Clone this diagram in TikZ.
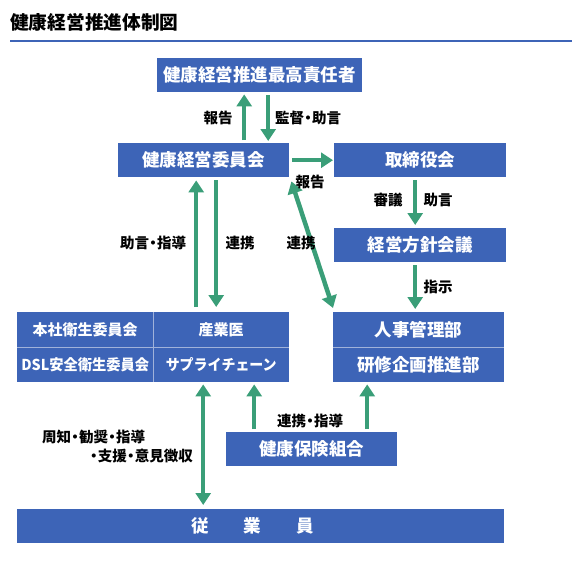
\documentclass[tikz,border=0pt]{standalone}
\usepackage{fontspec}
\setmainfont{Noto Sans CJK JP}
\usetikzlibrary{arrows.meta}
\definecolor{boxblue}{RGB}{61,100,183}
\definecolor{arrgreen}{RGB}{58,158,120}
\definecolor{divline}{RGB}{160,178,218}
\newcommand{\hdot}{\makebox[0.55em]{・}}
\tikzset{
  bluebox/.style={fill=boxblue, text=white, font=\bfseries\fontsize{17.5}{20}\selectfont, inner sep=0pt, anchor=north west},
  cellbox/.style={fill=boxblue, text=white, font=\bfseries\fontsize{15}{18}\selectfont, inner sep=0pt, anchor=north west, minimum width=136pt, minimum height=35pt},
  lbl/.style={font=\bfseries\fontsize{14.5}{17}\selectfont, text=black, inner sep=0pt},
  garr/.style={draw=arrgreen, line width=4.5pt, -{Triangle[width=15pt,length=12pt]}},
  gdarr/.style={draw=arrgreen, line width=4.5pt, {Triangle[width=15pt,length=12pt]}-{Triangle[width=15pt,length=12pt]}},
}
\begin{document}
\begin{tikzpicture}[x=1pt,y=-1pt]
\useasboundingbox (0,0) rectangle (580,563);
% title
\node[anchor=west, inner sep=0pt, font=\bfseries\fontsize{18.7}{20}\selectfont] (title) at (10,22) {健康経営推進体制図};
\draw[boxblue, line width=2pt] (10,41) -- (572,41);
% boxes
\node[bluebox, minimum width=205pt, minimum height=34pt] (b1) at (157,58) {健康経営推進最高責任者};
\node[bluebox, minimum width=171pt, minimum height=34pt] (b2) at (118,143) {健康経営委員会};
\node[bluebox, minimum width=172pt, minimum height=34pt] (b3) at (334,143) {取締役会};
\node[bluebox, minimum width=172pt, minimum height=34pt] (b4) at (334,228) {経営方針会議};
\node[bluebox, minimum width=171pt, minimum height=35pt] (b5) at (333,312) {人事管理部};
\node[bluebox, minimum width=171pt, minimum height=35pt] (b6) at (333,347) {研修企画推進部};
\node[cellbox] (lt1) at (17,312) {本社衛生委員会};
\node[cellbox] (lt2) at (153,312) {産業医};
\node[cellbox] (lb1) at (17,347) {\scalebox{0.95}[1]{DSL安全衛生委員会}};
\node[cellbox] (lb2) at (153,347) {\scalebox{0.93}[1]{サプライチェーン}};
\node[bluebox, minimum width=171pt, minimum height=34pt] (hk) at (226,432) {健康保険組合};
\node[bluebox, minimum width=487pt, minimum height=34pt] (emp) at (17,509) {\hspace*{-16pt}従\kern35pt業\kern35pt員};
% dividers
\draw[divline, line width=1pt] (lt1.north east) -- (lb1.south east);
\draw[divline, line width=1pt] (lt1.south west) -- (lt2.south east);
\draw[divline, line width=0.8pt] (b5.south west) -- (b5.south east);
% arrows
\draw[garr] ([xshift=40.5pt,yshift=3pt]b2.north) -- ([xshift=-15.5pt,yshift=-2pt]b1.south);
\draw[garr] ([xshift=8.5pt,yshift=-3pt]b1.south) -- ([xshift=64.5pt,yshift=2pt]b2.north);
\draw[garr] ([xshift=3pt]b2.east) -- ([xshift=-1pt]b3.west);
\draw[garr] ([xshift=-5pt,yshift=-3pt]b3.south) -- ([xshift=-5pt,yshift=3pt]b4.north);
\draw[garr] ([xshift=-5pt,yshift=-3pt]b4.south) -- ([xshift=-3.5pt,yshift=3pt]b5.north);
\draw[garr] ([xshift=-25pt,yshift=5pt]lt2.north) -- ([xshift=-7.5pt,yshift=-3pt]b2.south);
\draw[garr] ([xshift=12.5pt,yshift=-3pt]b2.south) -- ([xshift=-5pt,yshift=5pt]lt2.north);
\draw[gdarr] ([xshift=2pt,yshift=-4pt]b2.south east) -- ([yshift=4pt]b5.north west);
\draw[gdarr] ([xshift=-18pt,yshift=-2pt]lb2.south) -- ([xshift=-57.5pt,yshift=4pt]emp.north);
\draw[garr] ([xshift=-57.5pt,yshift=3pt]hk.north) -- ([xshift=33pt,yshift=-2pt]lb2.south);
\draw[garr] ([xshift=55.5pt,yshift=3pt]hk.north) -- ([xshift=-51.5pt,yshift=-2pt]b6.south);
% labels
\node[lbl] (l1) at (218,118) {報告};
\node[lbl, anchor=west] (l2) at (275,118) {監督\hdot 助言};
\node[lbl] (l3) at (310,182) {報告};
\node[lbl] (l4) at (388,200) {審議};
\node[lbl] (l5) at (438,200) {助言};
\node[lbl] (l6) at (438,287) {指示};
\node[lbl] (l7) at (153,243) {助言\hdot 指導};
\node[lbl] (l8) at (240,243) {連携};
\node[lbl] (l9) at (301,243) {連携};
\node[lbl] (l10) at (310,421) {連携\hdot 指導};
\node[lbl, anchor=west] (l11) at (42,437) {周知\hdot 勧奨\hdot 指導};
\node[lbl, anchor=east] (l12) at (193,456) {\hdot 支援\hdot 意見徴収};
\end{tikzpicture}
\end{document}
